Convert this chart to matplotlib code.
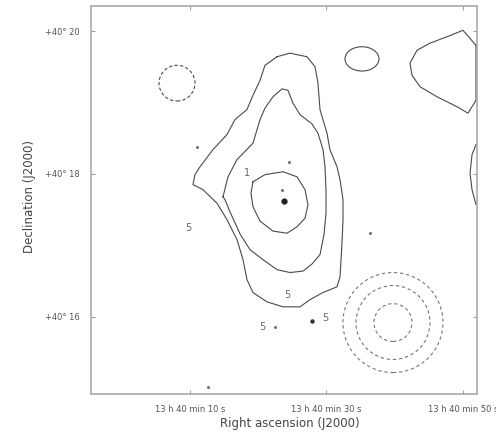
import matplotlib
matplotlib.use("Agg")
import matplotlib.pyplot as plt
from matplotlib.patches import Ellipse

# ---- data (RA seconds past 13h40m, Dec arcmin past +40 deg) ----
ra_ticks = [10, 30, 50]
ra_labels = ["13 h 40 min 10 s", "13 h 40 min 30 s", "13 h 40 min 50 s"]
dec_ticks = [20, 18, 16]
dec_labels = ["+40° 20", "+40° 18", "+40° 16"]

outer_ra = [22.75, 24.65, 27.14, 28.32, 28.75, 29.05, 30.07, 30.51, 31.54, 31.98, 32.42, 32.42,
            32.27, 31.98, 31.54, 29.49, 27.58, 26.12, 23.63, 21.28, 19.23, 18.35, 17.77, 16.89,
            15.42, 13.96, 11.90, 10.44, 10.73, 11.47, 13.37, 15.42, 16.59, 18.35, 19.23, 20.26,
            20.99, 22.75]
outer_dec = [19.64, 19.69, 19.64, 19.50, 19.27, 18.90, 18.57, 18.34, 18.10, 17.92, 17.64, 17.36,
             17.03, 16.56, 16.42, 16.34, 16.24, 16.14, 16.14, 16.21, 16.34, 16.52, 16.80, 17.08,
             17.36, 17.59, 17.78, 17.85, 17.99, 18.10, 18.34, 18.55, 18.76, 18.90, 19.10, 19.31,
             19.52, 19.64]

middle_ra = [14.84, 15.57, 16.89, 19.23, 20.26, 20.99, 22.16, 23.48, 24.36, 25.09, 26.12, 27.88,
             28.75, 29.49, 29.78, 29.93, 29.93, 29.63, 29.05, 27.88, 26.56, 24.65, 22.75, 20.70,
             18.79, 17.33, 15.86, 15.13, 14.84]
middle_dec = [17.68, 17.96, 18.20, 18.43, 18.76, 18.92, 19.08, 19.19, 19.17, 18.99, 18.83, 18.70,
              18.57, 18.34, 18.10, 17.78, 17.45, 17.15, 16.87, 16.74, 16.64, 16.62, 16.66, 16.80,
              16.94, 17.16, 17.47, 17.64, 17.68]

inner_ra = [19.23, 20.99, 23.63, 25.68, 26.85, 27.29, 26.85, 25.68, 24.21, 22.16, 20.26, 19.23,
            18.94, 19.23]
inner_dec = [17.89, 17.99, 18.03, 17.96, 17.78, 17.57, 17.38, 17.26, 17.17, 17.20, 17.34, 17.54,
             17.73, 17.89]

corner_ra = [51.9, 50.00, 47.66, 45.16, 43.26, 42.23, 42.53, 43.70, 46.19, 49.12, 50.73, 51.9, 51.9]
corner_dec = [19.80, 20.01, 19.92, 19.83, 19.73, 19.55, 19.38, 19.22, 19.08, 18.94, 18.85, 19.03, 19.80]

edge_ra = [51.9, 51.32, 51.03, 51.32, 51.9]
edge_dec = [18.41, 18.27, 18.01, 17.78, 17.57]

# small closed contours: centre ra, centre dec, width (s), height (arcmin)
blob_ra, blob_dec, blob_w, blob_h = 35.20, 19.61, 4.98, 0.34
neg_ra, neg_dec, neg_w, neg_h = 8.10, 19.27, 5.27, 0.50

# beam rings
beam_ra, beam_dec = 39.74, 15.92
beam_w = [14.65, 10.84, 5.57]
beam_h = [1.40, 1.035, 0.53]

peak_ra, peak_dec = 23.77, 17.62
dots_ra = [11.03, 24.51, 36.37, 12.64, 22.45, 23.48]
dots_dec = [18.38, 18.17, 17.17, 15.02, 15.86, 17.78]
big_dot_ra, big_dot_dec = 27.88, 15.94

label_txt = ["1", "5", "5", "5", "5"]
label_ra = [18.35, 9.71, 24.21, 20.55, 29.9]
label_dec = [18.01, 17.24, 16.31, 15.86, 15.99]

# ---- figure ----
fig = plt.figure(figsize=(4.96, 4.34), dpi=100)
ax = fig.add_axes([91/496, 1-394/434, (477-91)/496, (394-6)/434])
ax.set_xlim(-4.5, 52.05)
ax.set_ylim(14.92, 20.35)

lc = "#4a4a4a"
for xs, ys in [(outer_ra, outer_dec), (middle_ra, middle_dec), (inner_ra, inner_dec),
               (corner_ra, corner_dec), (edge_ra, edge_dec)]:
    ax.plot(xs, ys, color=lc, lw=0.8, clip_on=True)

ax.add_patch(Ellipse((blob_ra, blob_dec), blob_w, blob_h, fill=False, ec=lc, lw=0.8))
ax.add_patch(Ellipse((neg_ra, neg_dec), neg_w, neg_h, fill=False, ec=lc, lw=0.8,
                     ls=(0, (3, 2))))
for w, h in zip(beam_w, beam_h):
    ax.add_patch(Ellipse((beam_ra, beam_dec), w, h, fill=False, ec="#777777", lw=0.8,
                         ls=(0, (3, 2.5))))

ax.plot([peak_ra], [peak_dec], "o", color="#222222", ms=3.5)
ax.plot(dots_ra, dots_dec, "o", color="#777777", ms=1.2, ls="none")
ax.plot([big_dot_ra], [big_dot_dec], "o", color="#333333", ms=2.2)
for t, x, y in zip(label_txt, label_ra, label_dec):
    ax.text(x, y, t, fontsize=7, color="#666666", ha="center", va="center")

ax.set_xticks(ra_ticks)
ax.set_xticklabels(ra_labels)
ax.set_yticks(dec_ticks)
ax.set_yticklabels(dec_labels)
ax.tick_params(direction="in", length=3, width=0.6, color="#888888",
               labelsize=6, labelcolor="#555555", top=True, right=True, pad=8)
for s in ax.spines.values():
    s.set_color("#aaaaaa")
    s.set_linewidth(1.2)

fig.text(290/496, 1-423/434, "Right ascension (J2000)", fontsize=8.5, color="#444444",
         ha="center", va="center")
fig.text(30/496, 1-196/434, "Declination (J2000)", fontsize=8.5, color="#444444",
         ha="center", va="center", rotation=90)

fig.savefig("out.png", dpi=100)
